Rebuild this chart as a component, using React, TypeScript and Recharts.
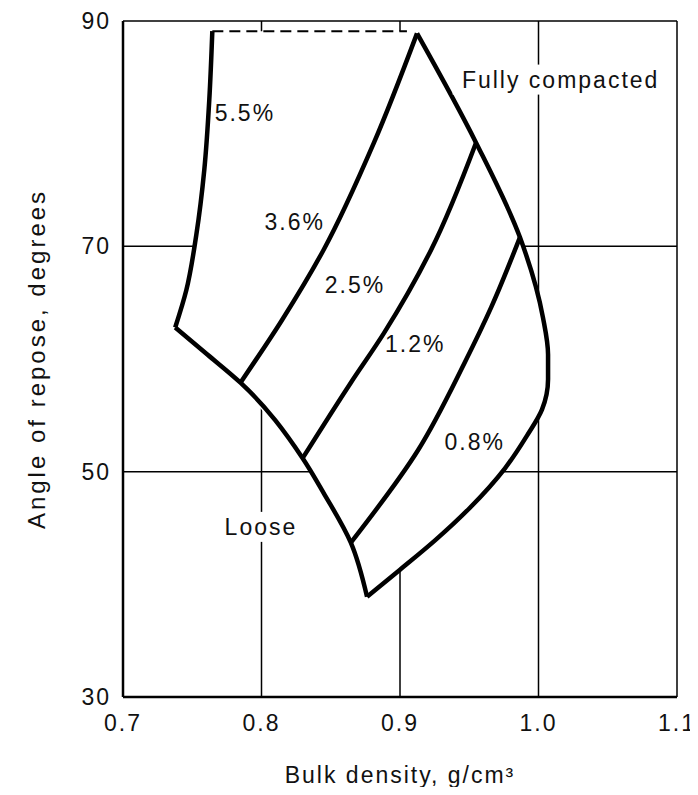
import { ComposedChart, Line, Area, Scatter, XAxis, YAxis, CartesianGrid } from 'recharts'

// bulk density (g/cm3) vs angle of repose (deg)
const line55 = [
  { d: 0.7377, a: 62.8 },
  { d: 0.7457, a: 66.1 },
  { d: 0.7529, a: 71.0 },
  { d: 0.7587, a: 76.8 },
  { d: 0.7623, a: 83.0 },
  { d: 0.7645, a: 89.1 },
]

const line36 = [
  { d: 0.7848, a: 57.9 },
  { d: 0.8145, a: 63.4 },
  { d: 0.8449, a: 69.7 },
  { d: 0.8812, a: 79.2 },
  { d: 0.9123, a: 88.9 },
]

const line25 = [
  { d: 0.8297, a: 51.2 },
  { d: 0.8645, a: 57.9 },
  { d: 0.8884, a: 62.3 },
  { d: 0.9225, a: 69.7 },
  { d: 0.9549, a: 79.2 },
]

const line12 = [
  { d: 0.8645, a: 43.7 },
  { d: 0.913, a: 51.9 },
  { d: 0.9464, a: 59.6 },
  { d: 0.9659, a: 64.6 },
  { d: 0.9866, a: 70.8 },
]

// loose boundary
const looseLine = [
  { d: 0.8762, a: 38.9 },
  { d: 0.8645, a: 43.7 },
  { d: 0.8449, a: 48.1 },
  { d: 0.8297, a: 51.2 },
  { d: 0.7848, a: 57.9 },
  { d: 0.7609, a: 60.4 },
  { d: 0.7377, a: 62.8 },
]

// 0.8% curve + fully compacted boundary
const outerLine = [
  { d: 0.8762, a: 38.9 },
  { d: 0.9, a: 41.3 },
  { d: 0.9253, a: 43.9 },
  { d: 0.9505, a: 46.8 },
  { d: 0.9758, a: 50.3 },
  { d: 0.9917, a: 53.2 },
  { d: 1.0025, a: 55.5 },
  { d: 1.0069, a: 58.2 },
  { d: 1.0069, a: 60.4 },
  { d: 1.0032, a: 63.7 },
  { d: 0.9866, a: 70.8 },
  { d: 0.9549, a: 79.2 },
  { d: 0.9123, a: 88.9 },
]

const topDash = [
  { d: 0.7645, a: 89.1 },
  { d: 0.905, a: 89.1 },
]

// left / right edge of the enclosed region at each angle (white fill)
const envelope = [
  { a: 38.9, range: [0.8762, 0.8762] },
  { a: 41.3, range: [0.871, 0.9] },
  { a: 43.9, range: [0.8635, 0.9253] },
  { a: 46.8, range: [0.851, 0.9505] },
  { a: 50.3, range: [0.834, 0.9758] },
  { a: 53.2, range: [0.816, 0.9917] },
  { a: 55.5, range: [0.801, 1.0025] },
  { a: 57.9, range: [0.7848, 1.0065] },
  { a: 60.4, range: [0.7609, 1.0069] },
  { a: 62.8, range: [0.7377, 1.0045] },
  { a: 66.1, range: [0.7457, 0.999] },
  { a: 70.8, range: [0.7527, 0.9866] },
  { a: 76.8, range: [0.7587, 0.965] },
  { a: 83.0, range: [0.7623, 0.938] },
  { a: 89.1, range: [0.7645, 0.905] },
]

const notes = [
  { d: 0.788, a: 81.8, text: '5.5%' },
  { d: 1.016, a: 84.8, text: 'Fully compacted', boxed: true },
  { d: 0.824, a: 72.2, text: '3.6%' },
  { d: 0.8675, a: 66.6, text: '2.5%' },
  { d: 0.911, a: 61.3, text: '1.2%' },
  { d: 0.954, a: 52.6, text: '0.8%' },
  { d: 0.7996, a: 45.1, text: 'Loose', boxed: true },
]

const xTicks = [0.7, 0.8, 0.9, 1.0, 1.1]
const yTicks = [30, 50, 70, 90]

const FONT = '"Liberation Sans", Arial, Helvetica, sans-serif'
const INK = '#111'
const textStyle = { fontSize: 23, fontFamily: FONT, fill: INK, letterSpacing: 2 }

function NoteLabel(props: any) {
  const { cx, cy, payload } = props
  const w = payload.text.length * 14 + 6
  return (
    <g>
      {payload.boxed && <rect x={cx - w / 2} y={cy - 15} width={w} height={30} fill="#fff" />}
      <text x={cx} y={cy} textAnchor="middle" dominantBaseline="central" style={textStyle}>
        {payload.text}
      </text>
    </g>
  )
}

function YTitle(props: any) {
  const vb = props.viewBox || {}
  const x = 28
  const y = vb.y + vb.height / 2
  return (
    <text x={x} y={y} transform={`rotate(-90, ${x}, ${y})`} textAnchor="middle" dominantBaseline="central" style={{ ...textStyle, fontSize: 24, letterSpacing: 3 }}>
      Angle of repose, degrees
    </text>
  )
}

function XTitle(props: any) {
  const vb = props.viewBox || {}
  const x = vb.x + vb.width / 2
  const y = 767
  return (
    <text x={x} y={y} textAnchor="middle" dominantBaseline="central" style={textStyle}>
      Bulk density, g/cm³
    </text>
  )
}

export default function App() {
  const curve = { stroke: '#000', strokeWidth: 4.5, dot: false, isAnimationActive: false, type: 'monotone' as const }
  return (
    <div style={{ width: 690, height: 779, fontFamily: FONT }}>
      <ComposedChart
        width={690}
        height={779}
        layout="vertical"
        margin={{ top: 13, right: 21, bottom: 0, left: 0 }}
      >
        <CartesianGrid stroke="#000" strokeWidth={1.5} horizontalValues={yTicks} verticalValues={xTicks} />
        <XAxis
          type="number"
          dataKey="d"
          domain={[0.7, 1.1]}
          ticks={xTicks}
          tickFormatter={(v: number) => v.toFixed(1)}
          height={90}
          tickLine={false}
          tickSize={0}
          tickMargin={18}
          axisLine={{ stroke: '#000', strokeWidth: 2.5 }}
          tick={textStyle}
          label={<XTitle />}
        />
        <YAxis
          type="number"
          dataKey="a"
          domain={[30, 90]}
          ticks={yTicks}
          reversed
          width={115}
          tickLine={false}
          tickSize={0}
          tickMargin={12}
          axisLine={{ stroke: '#000', strokeWidth: 2.5 }}
          tick={textStyle}
          label={<YTitle />}
        />
        <Area data={envelope} dataKey="range" type="linear" fill="#fff" fillOpacity={1} stroke="#fff" strokeWidth={2} isAnimationActive={false} />
        <Line data={topDash} dataKey="d" type="linear" stroke="#000" strokeWidth={2} strokeDasharray="11 6" dot={false} isAnimationActive={false} />
        <Line data={line55} dataKey="d" {...curve} />
        <Line data={looseLine} dataKey="d" {...curve} />
        <Line data={outerLine} dataKey="d" {...curve} />
        <Line data={line36} dataKey="d" {...curve} />
        <Line data={line25} dataKey="d" {...curve} />
        <Line data={line12} dataKey="d" {...curve} />
        <Scatter data={notes} dataKey="a" shape={<NoteLabel />} isAnimationActive={false} />
      </ComposedChart>
    </div>
  )
}
